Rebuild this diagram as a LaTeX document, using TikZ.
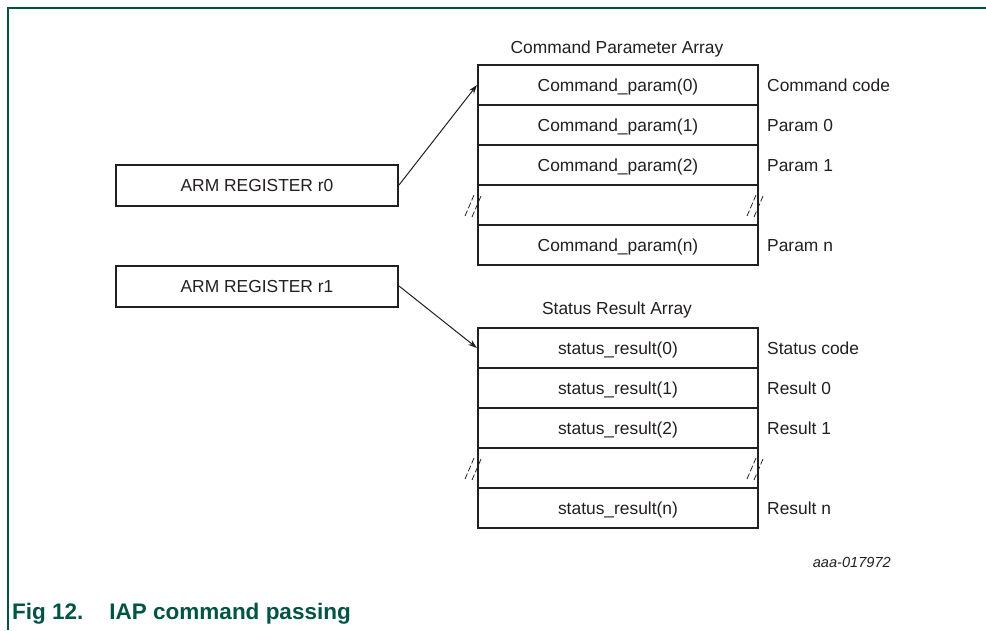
\documentclass[tikz,border=0pt]{standalone}
\usepackage{fontspec}
\setmainfont{Liberation Sans}
\usepackage{tikz}
\usetikzlibrary{calc}
\usetikzlibrary{positioning}
\usetikzlibrary{arrows,arrows.meta,shapes}
\definecolor{nxpgreen}{RGB}{0,84,70}
\definecolor{ink}{RGB}{35,31,32}

\begin{document}
\begin{tikzpicture}[x=1pt,y=-1pt,>={Stealth[length=9pt,width=6pt]},
  every node/.style={text=ink,font=\fontsize{17.4}{20}\selectfont},
  cell/.style={rectangle,draw=ink,line width=2pt,minimum width=280pt,minimum height=40pt,inner sep=0pt,text height=14pt,text depth=2pt},
  reg box/.style={rectangle,draw=ink,line width=2pt,minimum width=282pt,minimum height=41pt,inner sep=0pt,text height=14pt,text depth=2pt},
  side label/.style={anchor=base west,inner sep=0pt},
  brk/.style={draw=ink,line width=0.8pt,dash pattern=on 6pt off 2.5pt}]
					\useasboundingbox (0,0) rectangle (986,630);
					% frame
					\draw[nxpgreen,line width=1.6pt] (8,630) -- (8,8) -- (986,8);
					% registers
					\node[reg box] (r0) at (257,185) {ARM REGISTER r0};
					\node[reg box] (r1) at (257,286) {ARM REGISTER r1};
					% command parameter array
					\node[anchor=base,inner sep=0pt] (cptitle) at (617,53) {Command Parameter Array};
					\node[cell] (cp0) at (618,85) {Command\_param(0)};
					\node[cell] (cp1) at (618,125) {Command\_param(1)};
					\node[cell] (cp2) at (618,165) {Command\_param(2)};
					\node[cell] (cpgap) at (618,205) {};
					\node[cell] (cpn) at (618,245) {Command\_param(n)};
					\node[side label] (cpl0) at (767,91) {Command code};
					\node[side label] (cpl1) at (767,131) {Param 0};
					\node[side label] (cpl2) at (767,171) {Param 1};
					\node[side label] (cpln) at (767,251) {Param n};
					% status result array
					\node[anchor=base,inner sep=0pt] (srtitle) at (617,314) {Status Result Array};
					\node[cell] (sr0) at (618,348) {status\_result(0)};
					\node[cell] (sr1) at (618,388) {status\_result(1)};
					\node[cell] (sr2) at (618,428) {status\_result(2)};
					\node[cell] (srgap) at (618,468) {};
					\node[cell] (srn) at (618,508) {status\_result(n)};
					\node[side label] (srl0) at (767,354) {Status code};
					\node[side label] (srl1) at (767,394) {Result 0};
					\node[side label] (srl2) at (767,434) {Result 1};
					\node[side label] (srln) at (767,514) {Result n};
					% break marks
					\foreach \g in {cpgap,srgap}
					  \foreach \s in {west,east} {
					    \draw[brk] ($(\g.\s)+(-12,11)$) -- ++(9,-21);
					    \draw[brk] ($(\g.\s)+(-5,12)$) -- ++(9,-21);
					  }
					% pointers
					\path[every edge/.style={draw=ink,line width=1pt,->}]
					  (r0.east) edge (cp0.west)
					  (r1.east) edge (sr0.west);
					% figure id and caption
					\node[anchor=base east,inner sep=0pt,font=\itshape\fontsize{14.6}{17}\selectfont] (figid) at (891,567) {aaa-017972};
					\node[anchor=base west,inner sep=0pt,text=nxpgreen,font=\bfseries\fontsize{22.5}{25}\selectfont] (caption) at (12,619) {Fig 12.\hspace{26pt}IAP command passing};
\end{tikzpicture}
\end{document}
